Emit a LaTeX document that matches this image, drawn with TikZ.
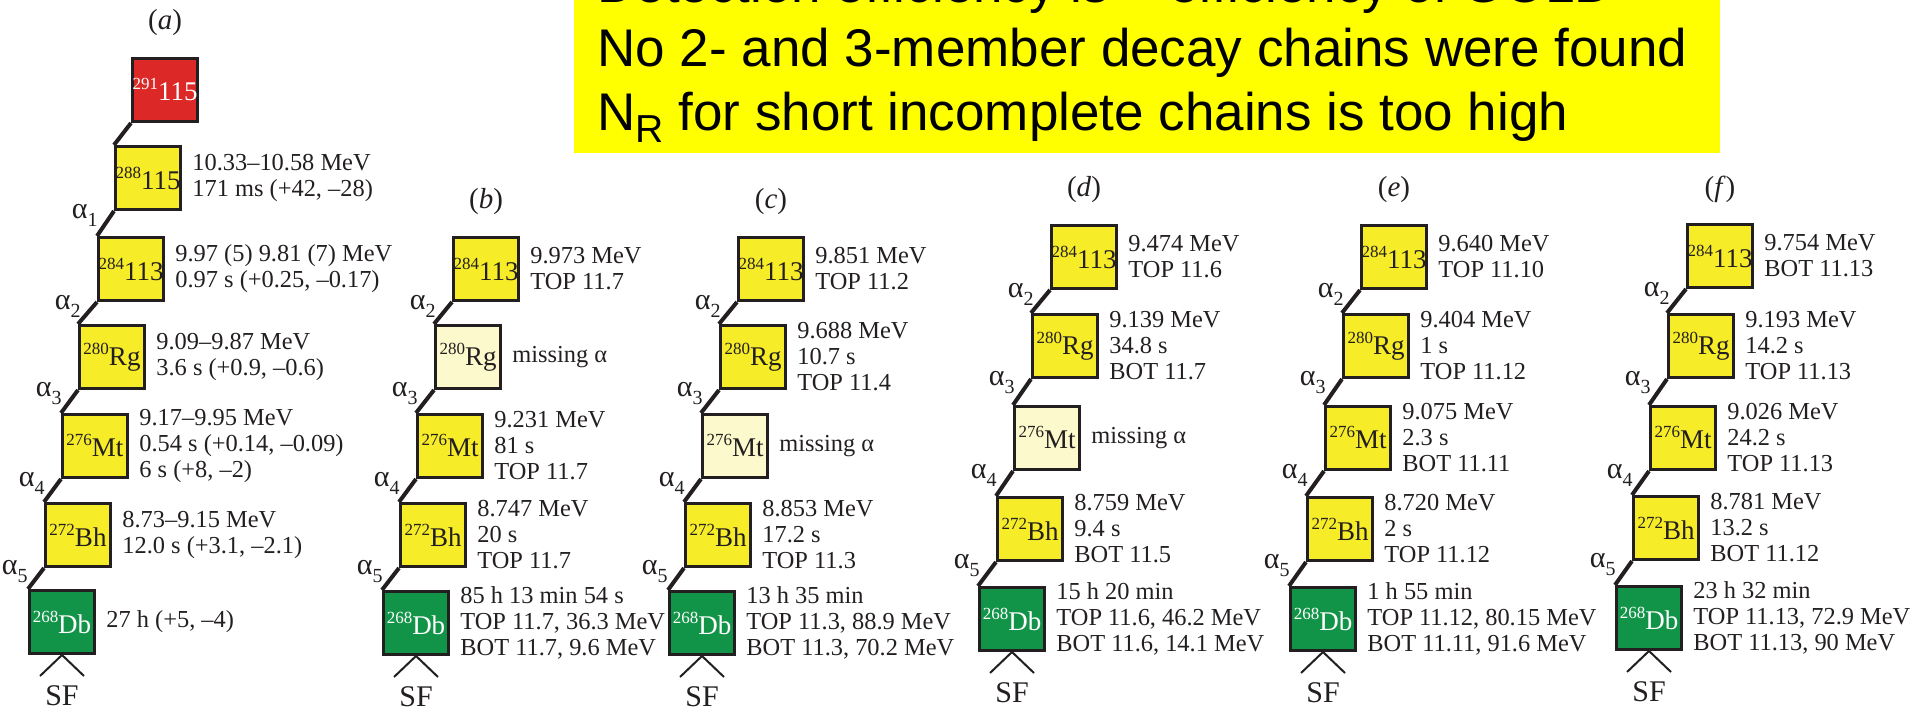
\documentclass[tikz,border=0pt]{standalone}
\usepackage{fontspec}
\setmainfont{Liberation Serif}
\newfontfamily\bannerfont{Liberation Sans}
\usetikzlibrary{calc}
\definecolor{nucyel}{RGB}{246,236,40}
\definecolor{nucpale}{RGB}{252,249,204}
\definecolor{nucgrn}{RGB}{18,148,72}
\definecolor{nucred}{RGB}{220,40,38}
\definecolor{ink}{RGB}{35,31,32}
\definecolor{banneryel}{RGB}{255,255,0}
\newcommand\iso[2]{{\fontsize{8.5}{9}\selectfont\raisebox{5.5pt}{#1}}#2}
\newcommand\alp[1]{α\raisebox{-4pt}{\fontsize{10}{10}\selectfont #1}}
\newcommand\nucbox[6]{\node[#1] (#2) at ({#3+34},{#4+33}) {\iso{#5}{#6}};}
\newcommand\infotxt[2]{\node[info] (#1-i) at ([xshift=5pt]#1.east) {#2};}
\newcommand\alflab[2]{\node[alab] (#1-a) at ($(#1.south west)+(-16,4)$) {\alp{#2}};}
\newcommand\chainlink[2]{\draw[conn] (#1.south west) -- (#2.north west);}
\newcommand\sfork[1]{\coordinate (#1-l) at ($(#1.south)+(-22,21)$);
  \coordinate (#1-r) at ($(#1.south)+(22,21)$);
  \draw[sfl] (#1-l) -- (#1.south) -- (#1-r);
  \node[sflab] (#1-sf) at ($(#1.south)+(0,41)$) {SF};}
\newcommand\chainlabel[2]{\node[clabel] (#1-c) at ($(#1.north)+(0,-34)$) {(\textit{#2})};}
\begin{document}
\begin{tikzpicture}[x=0.5pt,y=-0.5pt,
  nuc/.style={draw=ink,line width=1.5pt,minimum width=32.5pt,minimum height=31.5pt,
    inner sep=0pt,text=ink,font=\fontsize{13.5}{13.5}\selectfont},
  yelbox/.style={nuc,fill=nucyel},
  missbox/.style={nuc,fill=nucpale},
  grnbox/.style={nuc,fill=nucgrn,text=white},
  redbox/.style={nuc,fill=nucred,text=white},
  info/.style={anchor=west,align=left,inner sep=0pt,text=ink,font=\fontsize{12.2}{13}\selectfont},
  conn/.style={draw=ink,line width=2pt},
  alab/.style={anchor=east,inner sep=0pt,text=ink,font=\fontsize{15}{15}\selectfont},
  sfl/.style={draw=ink,line width=1pt},
  sflab/.style={inner sep=0pt,text=ink,font=\fontsize{15}{15}\selectfont},
  clabel/.style={inner sep=0pt,text=ink,font=\fontsize{14.5}{14.5}\selectfont},
  bannertxt/.style={anchor=base west,inner sep=0pt,text=black,font=\bannerfont\fontsize{26.5}{30}\selectfont}]
\useasboundingbox (0,0) rectangle (1915,710);
\clip (0,0) rectangle (1915,710);
% banner
\fill[banneryel] (574,-20) rectangle (1720,153);
\node[bannertxt] (l1) at (597,3) {Detection efficiency is \textasciitilde\ efficiency of GOLD};
\node[bannertxt] (l2) at (597,67) {No 2- and 3-member decay chains were found};
\node[bannertxt] (l3) at (597,131) {N\raisebox{-6pt}{\fontsize{19.5}{20}\selectfont R} for short incomplete chains is too high};
% chain a
\nucbox{redbox}{a291}{131}{57}{291}{115}
\nucbox{yelbox}{a288}{114}{145}{288}{115}
\nucbox{yelbox}{a284}{97}{236}{284}{113}
\nucbox{yelbox}{a280}{78}{324}{280}{Rg}
\nucbox{yelbox}{a276}{61}{413}{276}{Mt}
\nucbox{yelbox}{a272}{44}{502}{272}{Bh}
\nucbox{grnbox}{a268}{28}{589}{268}{Db}
\chainlabel{a291}{a}
\chainlink{a291}{a288}\chainlink{a288}{a284}\chainlink{a284}{a280}
\chainlink{a280}{a276}\chainlink{a276}{a272}\chainlink{a272}{a268}
\alflab{a288}{1}\alflab{a284}{2}\alflab{a280}{3}\alflab{a276}{4}\alflab{a272}{5}
\infotxt{a288}{10.33–10.58 MeV\\171 ms (+42, –28)}
\infotxt{a284}{9.97 (5) 9.81 (7) MeV\\0.97 s (+0.25, –0.17)}
\infotxt{a280}{9.09–9.87 MeV\\3.6 s (+0.9, –0.6)}
\infotxt{a276}{9.17–9.95 MeV\\0.54 s (+0.14, –0.09)\\6 s (+8, –2)}
\infotxt{a272}{8.73–9.15 MeV\\12.0 s (+3.1, –2.1)}
\infotxt{a268}{27 h (+5, –4)}
\sfork{a268}
% chain b
\nucbox{yelbox}{b284}{452}{236}{284}{113}
\nucbox{missbox}{b280}{434}{324}{280}{Rg}
\nucbox{yelbox}{b276}{416}{413}{276}{Mt}
\nucbox{yelbox}{b272}{399}{502}{272}{Bh}
\nucbox{grnbox}{b268}{382}{590}{268}{Db}
\chainlabel{b284}{b}
\chainlink{b284}{b280}\chainlink{b280}{b276}\chainlink{b276}{b272}\chainlink{b272}{b268}
\alflab{b284}{2}\alflab{b280}{3}\alflab{b276}{4}\alflab{b272}{5}
\infotxt{b284}{9.973 MeV\\TOP 11.7}
\infotxt{b280}{missing α}
\infotxt{b276}{9.231 MeV\\81 s\\TOP 11.7}
\infotxt{b272}{8.747 MeV\\20 s\\TOP 11.7}
\infotxt{b268}{85 h 13 min 54 s\\TOP 11.7, 36.3 MeV\\BOT 11.7, 9.6 MeV}
\sfork{b268}
% chain c
\nucbox{yelbox}{c284}{737}{236}{284}{113}
\nucbox{yelbox}{c280}{719}{324}{280}{Rg}
\nucbox{missbox}{c276}{701}{413}{276}{Mt}
\nucbox{yelbox}{c272}{684}{502}{272}{Bh}
\nucbox{grnbox}{c268}{668}{590}{268}{Db}
\chainlabel{c284}{c}
\chainlink{c284}{c280}\chainlink{c280}{c276}\chainlink{c276}{c272}\chainlink{c272}{c268}
\alflab{c284}{2}\alflab{c280}{3}\alflab{c276}{4}\alflab{c272}{5}
\infotxt{c284}{9.851 MeV\\TOP 11.2}
\infotxt{c280}{9.688 MeV\\10.7 s\\TOP 11.4}
\infotxt{c276}{missing α}
\infotxt{c272}{8.853 MeV\\17.2 s\\TOP 11.3}
\infotxt{c268}{13 h 35 min\\TOP 11.3, 88.9 MeV\\BOT 11.3, 70.2 MeV}
\sfork{c268}
% chain d
\nucbox{yelbox}{d284}{1050}{224}{284}{113}
\nucbox{yelbox}{d280}{1031}{313}{280}{Rg}
\nucbox{missbox}{d276}{1013}{405}{276}{Mt}
\nucbox{yelbox}{d272}{996}{496}{272}{Bh}
\nucbox{grnbox}{d268}{978}{586}{268}{Db}
\chainlabel{d284}{d}
\chainlink{d284}{d280}\chainlink{d280}{d276}\chainlink{d276}{d272}\chainlink{d272}{d268}
\alflab{d284}{2}\alflab{d280}{3}\alflab{d276}{4}\alflab{d272}{5}
\infotxt{d284}{9.474 MeV\\TOP 11.6}
\infotxt{d280}{9.139 MeV\\34.8 s\\BOT 11.7}
\infotxt{d276}{missing α}
\infotxt{d272}{8.759 MeV\\9.4 s\\BOT 11.5}
\infotxt{d268}{15 h 20 min\\TOP 11.6, 46.2 MeV\\BOT 11.6, 14.1 MeV}
\sfork{d268}
% chain e
\nucbox{yelbox}{e284}{1360}{224}{284}{113}
\nucbox{yelbox}{e280}{1342}{313}{280}{Rg}
\nucbox{yelbox}{e276}{1324}{405}{276}{Mt}
\nucbox{yelbox}{e272}{1306}{496}{272}{Bh}
\nucbox{grnbox}{e268}{1289}{586}{268}{Db}
\chainlabel{e284}{e}
\chainlink{e284}{e280}\chainlink{e280}{e276}\chainlink{e276}{e272}\chainlink{e272}{e268}
\alflab{e284}{2}\alflab{e280}{3}\alflab{e276}{4}\alflab{e272}{5}
\infotxt{e284}{9.640 MeV\\TOP 11.10}
\infotxt{e280}{9.404 MeV\\1 s\\TOP 11.12}
\infotxt{e276}{9.075 MeV\\2.3 s\\BOT 11.11}
\infotxt{e272}{8.720 MeV\\2 s\\TOP 11.12}
\infotxt{e268}{1 h 55 min\\TOP 11.12, 80.15 MeV\\BOT 11.11, 91.6 MeV}
\sfork{e268}
% chain f
\nucbox{yelbox}{f284}{1686}{223}{284}{113}
\nucbox{yelbox}{f280}{1667}{313}{280}{Rg}
\nucbox{yelbox}{f276}{1649}{405}{276}{Mt}
\nucbox{yelbox}{f272}{1632}{495}{272}{Bh}
\nucbox{grnbox}{f268}{1615}{585}{268}{Db}
\chainlabel{f284}{f}
\chainlink{f284}{f280}\chainlink{f280}{f276}\chainlink{f276}{f272}\chainlink{f272}{f268}
\alflab{f284}{2}\alflab{f280}{3}\alflab{f276}{4}\alflab{f272}{5}
\infotxt{f284}{9.754 MeV\\BOT 11.13}
\infotxt{f280}{9.193 MeV\\14.2 s\\TOP 11.13}
\infotxt{f276}{9.026 MeV\\24.2 s\\TOP 11.13}
\infotxt{f272}{8.781 MeV\\13.2 s\\BOT 11.12}
\infotxt{f268}{23 h 32 min\\TOP 11.13, 72.9 MeV\\BOT 11.13, 90 MeV}
\sfork{f268}
\end{tikzpicture}
\end{document}
